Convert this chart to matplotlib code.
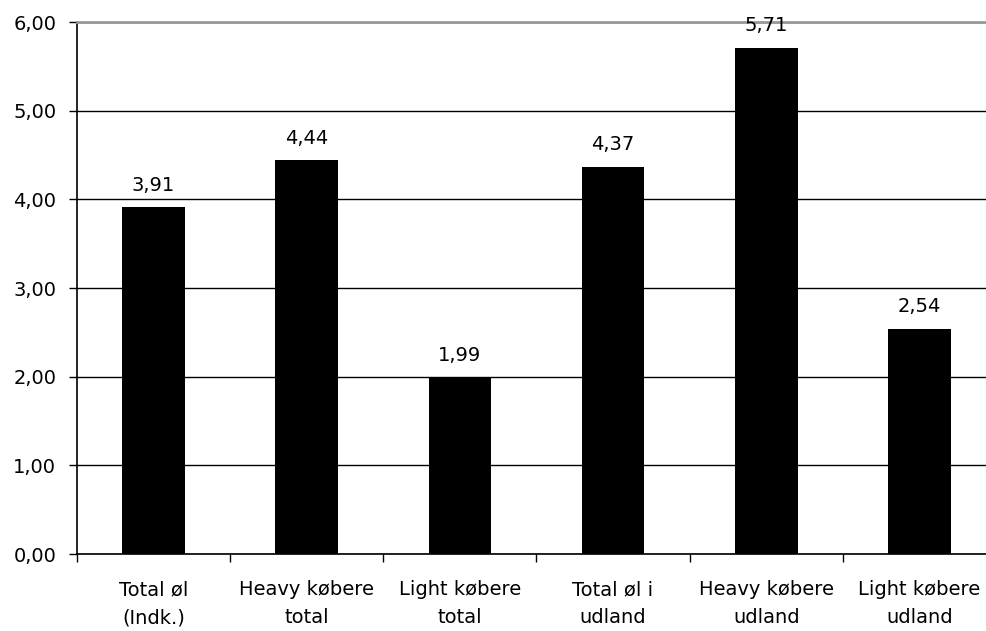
import numpy as np
import matplotlib.pyplot as plt

categories = ["Total øl\n(Indk.)", "Heavy købere\ntotal", "Light købere\ntotal",
              "Total øl i\nudland", "Heavy købere\nudland", "Light købere\nudland"]
values = [3.91, 4.44, 1.99, 4.37, 5.71, 2.54]
yticks = [0, 1, 2, 3, 4, 5, 6]

plt.rcParams['font.family'] = ['DejaVu Sans']
plt.rcParams['font.size'] = 14

fig = plt.figure(figsize=(9.86, 6.31), dpi=100)
ax = fig.add_axes([0.0781, 0.122, 0.932, 0.843])

x = np.arange(len(values))
bars = ax.bar(x, values, width=0.41, color="black", zorder=3)

# value labels above each bar, comma as decimal sign
for xi, v in zip(x, values):
    ax.annotate(f"{v:.2f}".replace(".", ","), (xi, v), xytext=(0, 9),
                textcoords="offset points", ha="center", va="bottom", fontsize=14)

ax.set_xlim(-0.5, len(values) - 0.5)
ax.set_ylim(0, 6)
ax.set_yticks(yticks)
ax.set_yticklabels([f"{t:.2f}".replace(".", ",") for t in yticks])

# category ticks between the bars, labels centred under them
ax.set_xticks(np.arange(len(values)) - 0.5)
ax.set_xticklabels([])
ax.set_xticks(x, minor=True)
ax.set_xticklabels(categories, minor=True, linespacing=1.6)
ax.tick_params(axis="x", which="minor", length=0, pad=19)
ax.tick_params(axis="x", which="major", length=6, direction="out", width=1)
ax.tick_params(axis="y", length=6, direction="out", width=1, pad=9)

ax.yaxis.grid(True, color="black", linewidth=1, zorder=0)
ax.set_axisbelow(True)

ax.spines["right"].set_visible(False)
ax.spines["top"].set_color("#999999")
ax.spines["top"].set_linewidth(2)
ax.spines["left"].set_linewidth(1.2)
ax.spines["bottom"].set_linewidth(1.2)

fig.savefig("out.png", dpi=100)
